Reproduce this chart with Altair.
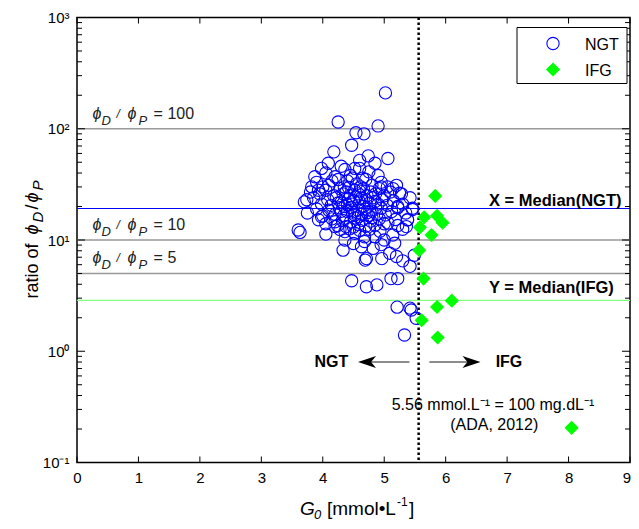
import altair as alt
import pandas as pd

# ---------------- data ----------------
NGT_X = [
    # upper / scattered points
    5.02, 4.25, 4.54, 4.67, 4.90, 4.47, 4.18, 4.74, 5.06, 4.60, 4.09, 4.85, 3.98, 4.36, 4.52,
    3.87, 4.95, 5.14, 5.25, 3.82, 3.74, 3.93, 5.46, 5.38, 5.22, 3.98, 3.60,
    # band 36-50
    4.05, 4.30, 4.45, 4.60, 4.75, 4.20, 4.90, 4.65,
    # band 30-37
    3.90, 4.10, 4.25, 4.35, 4.40, 4.55, 4.62, 4.70, 4.80, 4.95, 5.05, 4.48, 4.15, 4.00, 5.20,
    # band 25-30
    3.80, 3.95, 4.05, 4.18, 4.28, 4.38, 4.45, 4.52, 4.58, 4.66, 4.72, 4.78, 4.86, 4.92, 5.00,
    5.10, 5.28, 4.33, 4.60, 4.42,
    # band 20-25
    3.70, 3.85, 3.98, 4.08, 4.14, 4.22, 4.30, 4.36, 4.42, 4.48, 4.54, 4.60, 4.66, 4.70, 4.76,
    4.82, 4.90, 4.97, 5.05, 5.15, 5.30, 5.42, 4.25, 4.50, 4.63, 4.40, 4.85,
    # band 16-20
    3.75, 3.90, 4.00, 4.10, 4.20, 4.27, 4.34, 4.40, 4.46, 4.52, 4.57, 4.63, 4.69, 4.75, 4.80,
    4.88, 4.95, 5.02, 5.12, 5.22, 5.35, 5.46, 4.48, 4.30, 4.58, 4.72,
    # band 13-16
    3.93, 4.05, 4.15, 4.24, 4.32, 4.38, 4.45, 4.52, 4.58, 4.64, 4.70, 4.78, 4.85, 4.92, 5.00,
    5.06, 5.18, 5.22, 5.36, 5.38, 4.20, 4.50, 4.80,
    # band 10-13
    3.63, 4.05, 4.20, 4.36, 4.52, 4.68, 4.85, 5.00, 5.14, 4.28, 4.44, 4.60, 4.76, 4.93, 5.30, 4.36,
    # band 6-10
    5.17, 4.63, 4.82, 4.68, 4.33, 5.09, 4.69, 4.71, 4.96, 5.20, 5.30, 5.42, 5.49, 4.50, 4.95,
    # low points
    4.47, 4.71, 4.88, 5.11, 5.22, 5.21, 5.42, 5.44, 5.52, 5.33,
]
NGT_Y = [
    210, 115, 92, 90, 106, 71, 62, 57, 54, 52, 49, 49, 44, 43, 44,
    37, 30, 29, 26.3, 30, 23, 28, 19.3, 15.2, 20, 16.2, 12.3,
    40, 46, 38, 44, 41, 37, 38, 36,
    33, 31, 35, 30, 34, 32, 30, 35, 31, 33, 30, 36, 34, 30, 31,
    27, 26, 28, 25, 29, 27, 25, 28, 26, 29, 25, 27, 26, 29, 25,
    27, 26, 26, 27.5, 29.5,
    22, 24, 21, 23, 20.5, 24, 22, 20, 23.5, 21, 24.5, 22, 20, 23, 21.5,
    24, 21, 23, 20.5, 22.5, 21, 24, 21.5, 22.5, 23.8, 20.8, 22.2,
    17.5, 19, 16.5, 18.5, 17, 19.5, 16.5, 18, 19.5, 16.8, 18.5, 17, 19, 16.5, 18.2,
    17, 19.3, 16.8, 18, 19.5, 17.5, 18.8, 17.8, 18.1, 16.2, 17.6,
    15.2, 14, 15.5, 13.5, 15, 13.2, 14.5, 15.8, 13.8, 15, 13.3, 14.8, 13.6, 15.5, 14,
    14.2, 15.3, 13.5, 13.2, 15.2, 14.6, 13.1, 15.9,
    11.7, 11.3, 13.2, 11.9, 11.5, 10.7, 10.7, 10.0, 11.1, 12.4, 12.6, 12.2, 12.5, 12.0, 12.5, 10.0,
    9.35, 8.7, 8.4, 9.7, 8.1, 7.6, 6.6, 6.8, 6.8, 7.1, 6.5, 5.8, 7.3, 9.3, 9.1,
    4.3, 3.8, 3.95, 4.5, 4.5, 2.49, 2.44, 2.35, 1.98, 1.40,
]
IFG_X = [5.83, 5.65, 5.86, 5.95, 5.58, 5.77, 5.57, 5.64, 6.10, 5.86, 5.61, 5.87, 8.05]
IFG_Y = [24.9, 16.0, 16.5, 14.3, 13.0, 11.1, 8.1, 4.5, 2.85, 2.5, 1.9, 1.33, 0.205]

GROUPS = ["NGT", "IFG"]
X_TICKS = [0, 1, 2, 3, 4, 5, 6, 7, 8, 9]
Y_DECADES = [0.1, 1, 10, 100, 1000]
Y_LABELS = ["10⁻¹", "10⁰", "10¹", "10²", "10³"]
REF_LINES = [100, 10, 5]
REF_TEXT = ["= 100", "= 10", "= 5"]
MEDIAN_NGT = 19.2
MEDIAN_IFG = 2.87
ADA_X = 5.56

# ---------------- layout / style ----------------
W, H = 553, 445
LEFT, TOP = 69, 9.5
FONT = "Liberation Sans"
BLUE, GREEN = "#0000ff", "#00ff00"
CIRCLE_SIZE, DIAMOND_SIZE = 150, 200
xscale = alt.Scale(domain=[0, 9], nice=False, zero=False)
yscale = alt.Scale(type="log", domain=[0.1, 1000], nice=False)

label_expr = " : ".join(
    f"abs(datum.value - {v}) < {v * 0.01} ? '{l}'" for v, l in zip(Y_DECADES, Y_LABELS)
) + " : ''"
last_x = X_TICKS[-1]

X_ENC = alt.X("x:Q", scale=xscale, axis=alt.Axis(
    values=X_TICKS, ticks=False, grid=False, domain=False, title=None, format="d",
    labelExpr=f"datum.value == {last_x} ? '' : format(datum.value, 'd')",
    labelFlush=False, labelFont=FONT, labelFontSize=15, labelColor="black", labelPadding=8))
Y_ENC = alt.Y("y:Q", scale=yscale, axis=alt.Axis(
    values=Y_DECADES, ticks=False, grid=False, domain=False, title=None,
    labelExpr=label_expr, labelFont=FONT, labelFontSize=15, labelColor="black",
    labelPadding=8))

ngt_df = pd.DataFrame({"x": NGT_X, "y": NGT_Y})
ifg_df = pd.DataFrame({"x": IFG_X, "y": IFG_Y})
ngt_pts = alt.Chart(ngt_df).mark_point(
    shape="circle", filled=False, color=BLUE, strokeWidth=1.1, size=CIRCLE_SIZE, opacity=1
).encode(x=X_ENC, y=Y_ENC)
ifg_pts = alt.Chart(ifg_df).mark_point(
    shape="diamond", filled=True, color=GREEN, size=DIAMOND_SIZE, opacity=1
).encode(x=alt.X("x:Q", scale=xscale), y=alt.Y("y:Q", scale=yscale))

# last x tick label kept inside the page (right-aligned at the frame)
last_lbl = alt.Chart(pd.DataFrame({"x": [last_x], "t": [str(last_x)]})).mark_text(
    align="right", baseline="top", dx=1, fontSize=15, font=FONT, color="black").encode(
    x=alt.X("x:Q", scale=xscale), y=alt.value(H + 8), text="t:N")

# reference lines
ref_df = pd.DataFrame({"y": REF_LINES, "t": REF_TEXT})
ref_rules = alt.Chart(ref_df).mark_rule(color="#999999", strokeWidth=1.3).encode(
    y=alt.Y("y:Q", scale=yscale))
med_ngt = alt.Chart(pd.DataFrame({"y": [MEDIAN_NGT]})).mark_rule(color=BLUE, strokeWidth=1.2).encode(
    y=alt.Y("y:Q", scale=yscale))
med_ifg = alt.Chart(pd.DataFrame({"y": [MEDIAN_IFG]})).mark_rule(color="#80ff80", strokeWidth=1.2).encode(
    y=alt.Y("y:Q", scale=yscale))
vline = alt.Chart(pd.DataFrame({"x": [ADA_X]})).mark_rule(
    color="black", strokeWidth=2.5, strokeDash=[2.5, 2.5]).encode(x=alt.X("x:Q", scale=xscale))

# phi labels on reference lines
phi_pieces = [
    ("ϕ", 0, -10, 16, "italic"),
    ("D", 9, -4, 13, "italic"),
    ("/", 24, -11, 12, "italic"),
    ("ϕ", 35, -10, 16, "italic"),
    ("P", 46, -4, 13, "italic"),
]
phi_layers = []
for txt, dx, dy, fs, st in phi_pieces:
    phi_layers.append(alt.Chart(ref_df).mark_text(
        align="left", baseline="alphabetic", dx=dx, dy=dy, fontSize=fs, fontStyle=st,
        font=FONT, color="#222222").encode(
        x=alt.datum(0.254, scale=xscale), y=alt.Y("y:Q", scale=yscale), text=alt.value(txt)))
phi_layers.append(alt.Chart(ref_df).mark_text(
    align="left", baseline="alphabetic", dx=61, dy=-10, fontSize=16, font=FONT,
    color="#222222").encode(
    x=alt.datum(0.254, scale=xscale), y=alt.Y("y:Q", scale=yscale), text="t:N"))

# median labels
med_labels = []
for yv, txt, dy in [(MEDIAN_NGT, "X = Median(NGT)", -2.5), (MEDIAN_IFG, "Y = Median(IFG)", -7)]:
    med_labels.append(alt.Chart(pd.DataFrame({"x": [6.705], "y": [yv], "t": [txt]})).mark_text(
        align="left", baseline="alphabetic", dy=dy, fontSize=16.5,
        fontWeight="bold", font=FONT, color="black").encode(
        x=alt.X("x:Q", scale=xscale), y=alt.Y("y:Q", scale=yscale), text="t:N"))

# NGT <- | -> IFG
ARROW_Y = 0.80
arrow_lines = alt.Chart(pd.DataFrame({"x": [5.41, 5.735], "x2": [4.72, 6.45], "y": [ARROW_Y, ARROW_Y]})).mark_rule(
    color="#666666", strokeWidth=1.5).encode(
    x=alt.X("x:Q", scale=xscale), x2="x2:Q", y=alt.Y("y:Q", scale=yscale))
head_l = alt.Chart(pd.DataFrame({"x": [4.72], "y": [ARROW_Y]})).mark_point(
    shape="M-1,0L1,-0.66L0.45,0L1,0.66Z", filled=True, color="black", size=324, opacity=1).encode(
    x=alt.X("x:Q", scale=xscale), y=alt.Y("y:Q", scale=yscale))
head_r = alt.Chart(pd.DataFrame({"x": [6.42], "y": [ARROW_Y]})).mark_point(
    shape="M1,0L-1,-0.66L-0.45,0L-1,0.66Z", filled=True, color="black", size=324, opacity=1).encode(
    x=alt.X("x:Q", scale=xscale), y=alt.Y("y:Q", scale=yscale))
grp_txt = alt.Chart(pd.DataFrame({"x": [4.14, 7.03], "y": [ARROW_Y, ARROW_Y], "t": ["NGT", "IFG"]})).mark_text(
    baseline="middle", fontSize=16, fontWeight="bold", font=FONT, color="black").encode(
    x=alt.X("x:Q", scale=xscale), y=alt.Y("y:Q", scale=yscale), text="t:N")
ada_txt = alt.Chart(pd.DataFrame({"x": [6.77, 6.79], "y": [0.33, 0.218],
                                  "t": ["5.56 mmol.L⁻¹ = 100 mg.dL⁻¹", "(ADA, 2012)"]})).mark_text(
    baseline="middle", fontSize=16, font=FONT, color="black").encode(
    x=alt.X("x:Q", scale=xscale), y=alt.Y("y:Q", scale=yscale), text="t:N")

# inside ticks (box on all four sides)
minor_y = [k * 10 ** d for d in [-1, 0, 1, 2] for k in range(2, 10)]
tick_layers = []
for vals, ln in [(Y_DECADES, 8), (minor_y, 5)]:
    tdf = pd.DataFrame({"y": vals})
    tick_layers.append(alt.Chart(tdf).mark_rule(color="black", strokeWidth=1).encode(
        y=alt.Y("y:Q", scale=yscale), x=alt.value(0), x2=alt.value(ln)))
    tick_layers.append(alt.Chart(tdf).mark_rule(color="black", strokeWidth=1).encode(
        y=alt.Y("y:Q", scale=yscale), x=alt.value(W - ln), x2=alt.value(W)))
xt = pd.DataFrame({"x": X_TICKS})
tick_layers.append(alt.Chart(xt).mark_rule(color="black", strokeWidth=1).encode(
    x=alt.X("x:Q", scale=xscale), y=alt.value(H - 6), y2=alt.value(H)))
tick_layers.append(alt.Chart(xt).mark_rule(color="black", strokeWidth=1).encode(
    x=alt.X("x:Q", scale=xscale), y=alt.value(0), y2=alt.value(6)))

# legend (drawn by hand, MATLAB style)
one = pd.DataFrame({"a": [0]})
LB_L, LB_R, LB_T, LB_B = W - 113, W - 3, 10, 66
legend_layers = [
    alt.Chart(one).mark_rect(fill="white", stroke="black", strokeWidth=1).encode(
        x=alt.value(LB_L), x2=alt.value(LB_R), y=alt.value(LB_T), y2=alt.value(LB_B)),
    alt.Chart(one).mark_point(shape="circle", filled=False, color=BLUE, strokeWidth=1.1,
                              size=CIRCLE_SIZE, opacity=1).encode(
        x=alt.value(LB_L + 36), y=alt.value(LB_T + 16)),
    alt.Chart(one).mark_point(shape="diamond", filled=True, color=GREEN,
                              size=DIAMOND_SIZE, opacity=1).encode(
        x=alt.value(LB_L + 36), y=alt.value(LB_T + 42)),
]
for i, g in enumerate(GROUPS):
    legend_layers.append(alt.Chart(one).mark_text(
        align="left", baseline="middle", fontSize=16, font=FONT, color="black").encode(
        x=alt.value(LB_L + 68), y=alt.value(LB_T + 17 + 26 * i), text=alt.value(g)))

# axis titles built from pieces
title_layers = []
XT_X, XT_Y = 223, 497
xt_pieces = [
    ("G", 0, 0, 19, "italic"),
    ("0", 14, 4, 13, "italic"),
    ("[mmol•L", 27, 0, 19, "normal"),
    ("-1", 97, -9, 12, "normal"),
    ("]", 109, 0, 19, "normal"),
]
for txt, dx, dy, fs, st in xt_pieces:
    title_layers.append(alt.Chart(one).mark_text(
        align="left", baseline="alphabetic", dx=dx, dy=dy, fontSize=fs, fontStyle=st,
        font=FONT, color="black").encode(x=alt.value(XT_X), y=alt.value(XT_Y), text=alt.value(txt)))

YT_X, YT_Y = -39, 281
yt_pieces = [
    ("ratio of ", 0, 0, 18, "normal"),
    ("ϕ", 64, 0, 18, "italic"),
    ("D", 76, 5, 15, "italic"),
    ("/", 89, 0, 18, "normal"),
    ("ϕ", 96, 0, 18, "italic"),
    ("P", 108, 5, 15, "italic"),
]
for txt, dx, dy, fs, st in yt_pieces:
    title_layers.append(alt.Chart(one).mark_text(
        align="left", baseline="alphabetic", angle=270, dx=dx, dy=dy, fontSize=fs,
        fontStyle=st, font=FONT, color="black").encode(
        x=alt.value(YT_X), y=alt.value(YT_Y), text=alt.value(txt)))

chart = alt.layer(
    ref_rules, med_ngt, med_ifg, vline, *tick_layers, arrow_lines, head_l, head_r,
    *phi_layers, *med_labels, grp_txt, ada_txt, *title_layers, last_lbl, ngt_pts, ifg_pts,
    *legend_layers,
).properties(
    width=W, height=H,
    autosize=alt.AutoSizeParams(type="none"),
    padding={"left": LEFT, "top": TOP, "right": 1, "bottom": 60},
    background="white",
).configure_view(stroke="black", strokeWidth=1.5)

chart.save("out.html", embed_options={"renderer": "svg", "actions": False})
